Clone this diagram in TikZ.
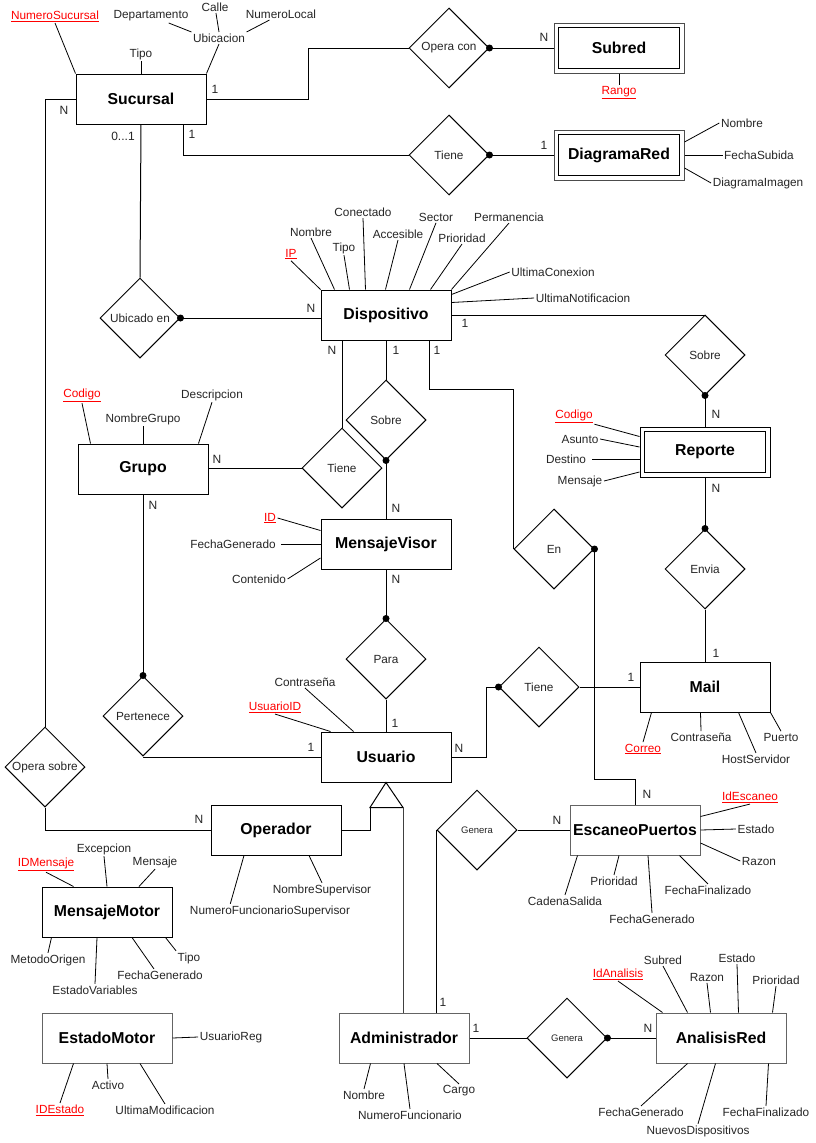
\documentclass[tikz,border=0pt]{standalone}
\usepackage{fontspec}
\setmainfont{Liberation Sans}
\usetikzlibrary{shapes.geometric}
\definecolor{keyred}{RGB}{255,0,0}
\definecolor{bgray}{RGB}{100,100,100}
\begin{document}
\begin{tikzpicture}[x=1pt,y=-1pt,
 ent/.style={draw, line width=1pt, minimum width=130pt, minimum height=50pt, inner sep=0pt, font=\fontsize{15.8}{18}\selectfont\bfseries},
 gent/.style={ent, draw=bgray},
 rel/.style={draw, line width=1pt, shape=diamond, shape aspect=1, minimum width=80pt, minimum height=80pt, inner sep=0pt, font=\fontsize{11.8}{14}\selectfont, text=black!85},
 srel/.style={rel, font=\fontsize{9.5}{11}\selectfont},
 attr/.style={inner sep=1.5pt, font=\fontsize{11.8}{14}\selectfont, text=black!85},
 key/.style={attr, text=keyred},
 card/.style={inner sep=0pt, font=\fontsize{12}{14}\selectfont, text=black!85},
 conn/.style={line width=1pt},
 aline/.style={line width=0.8pt},
 dot/.style={fill=black}
]
\fill[white] (0,0) rectangle (816,1143);
\useasboundingbox (0,0) rectangle (816,1143);

% ---------- entities ----------
\node[ent] (suc) at (141,99) {Sucursal};
\node[ent, draw=black!70] (subred) at (619,48) {Subred};
\draw[line width=1pt] ([shift={(5,5)}]subred.north west) rectangle ([shift={(-5,-5)}]subred.south east);
\node[ent, draw=black!70] (diag) at (619,155) {DiagramaRed};
\draw[line width=1pt] ([shift={(5,5)}]diag.north west) rectangle ([shift={(-5,-5)}]diag.south east);
\node[ent] (disp) at (386,315) {Dispositivo};
\node[ent] (rep) at (705,452) {Reporte};
\draw[line width=1pt] ([shift={(5,5)}]rep.north west) rectangle ([shift={(-5,-5)}]rep.south east);
\node[ent] (grupo) at (143,469) {Grupo};
\node[ent] (mv) at (386,544) {MensajeVisor};
\node[ent] (usu) at (386,757) {Usuario};
\node[ent] (mail) at (705,687) {Mail};
\node[ent] (oper) at (276,830) {Operador};
\node[gent] (esc) at (635,830) {EscaneoPuertos};
\node[ent] (mm) at (107,912) {MensajeMotor};
\node[gent] (em) at (107,1038) {EstadoMotor};
\node[gent] (adm) at (404,1038) {Administrador};
\node[gent] (ar) at (721,1038) {AnalisisRed};

% ---------- relationships ----------
\node[rel] (operacon) at (449,48) {Opera con};
\node[rel] (tieneD) at (449,155) {Tiene};
\node[rel] (ubic) at (140,318) {Ubicado en};
\node[rel] (sobreM) at (386,420) {Sobre};
\node[rel] (tieneG) at (342,468) {Tiene};
\node[rel] (sobreR) at (705,355) {Sobre};
\node[rel] (en) at (554,549) {En};
\node[rel] (envia) at (705,569) {Envia};
\node[rel] (para) at (386,659) {Para};
\node[rel] (pert) at (143,716) {Pertenece};
\node[rel] (tieneM) at (539,687) {Tiene};
\node[rel] (operasobre) at (45,767) {Opera sobre};
\node[srel] (generaE) at (477,830) {Genera};
\node[srel] (generaA) at (567,1038) {Genera};

% ---------- connectors ----------
\draw[conn] (suc.east) -- ([shift={(102,0)}]suc.east) |- (operacon.west);
\draw[conn] (operacon.east) -- (subred.west);
\fill[dot] (operacon.east) circle[radius=3.5pt];
\draw[conn] ([shift={(42,0)}]suc.south) |- (tieneD.west);
\draw[conn] (tieneD.east) -- (tieneD.east -| diag.west);
\fill[dot] (tieneD.east) circle[radius=3.5pt];
\draw[conn] (suc.south) -- (ubic.north);
\draw[conn] (ubic.east) -- (ubic.east -| disp.west);
\fill[dot] (ubic.east) circle[radius=3.5pt];
\draw[conn] (suc.west) -| (operasobre.north);
\draw[conn] (operasobre.south) |- (oper.west);
\draw[conn] (tieneG.north |- disp.south) -- (tieneG.north);
\draw[conn] (disp.south) -- (sobreM.north);
\draw[conn] (sobreM.south) -- (mv.north);
\fill[dot] (sobreM.south) circle[radius=3.5pt];
\draw[conn] (tieneG.west -| grupo.east) -- (tieneG.west);
\draw[conn] (disp.east) -| (sobreR.north);
\draw[conn] (sobreR.south) -- (rep.north);
\fill[dot] (sobreR.south) circle[radius=3.5pt];
\draw[conn] ([shift={(43,0)}]disp.south) -- ([shift={(43,49)}]disp.south) -| (en.west);
\draw[conn] (en.east) -- ([shift={(0,230)}]en.east) -| (esc.north);
\fill[dot] (en.east) circle[radius=3.5pt];
\draw[conn] (rep.south) -- (envia.north);
\fill[dot] (envia.north) circle[radius=3.5pt];
\draw[conn] (envia.south) -- (mail.north);
\draw[conn] (mv.south) -- (para.north);
\fill[dot] (para.north) circle[radius=3.5pt];
\draw[conn] (para.south) -- (usu.north);
\draw[conn] (grupo.south) -- (pert.north);
\fill[dot] (pert.north) circle[radius=3.5pt];
\draw[conn] (pert.south) |- (usu.west);
\draw[conn] (usu.east) -- ([shift={(35,0)}]usu.east) |- (tieneM.west);
\fill[dot] (tieneM.west) circle[radius=3.5pt];
\draw[conn] (tieneM.east) -- (tieneM.east -| mail.west);
% ISA
\coordinate (isaL) at ([shift={(-16,25)}]usu.south);
\coordinate (isaR) at ([shift={(17,25)}]usu.south);
\draw[conn] (usu.south) -- (isaL) -- (isaR) -- cycle;
\draw[conn] (oper.east) -| (isaL);
\draw[conn, draw=black!75] (isaR) -- (isaR |- adm.north);
\draw[conn] (generaE.east) -- (generaE.east -| esc.west);
\draw[conn] (generaE.west) -- (generaE.west |- adm.north);
\draw[conn] (adm.east) -- (generaA.west);
\draw[conn] (generaA.east) -- (ar.west);
\fill[dot] (generaA.east) circle[radius=3.5pt];

% ---------- cardinalities ----------
\node[card] (k1) at (215,89) {1};
\node[card] (k2) at (544,37) {N};
\node[card] (k3) at (192,134) {1};
\node[card] (k4) at (544,145) {1};
\node[card] (k5) at (123,136) {0...1};
\node[card] (k6) at (64,110) {N};
\node[card] (k7) at (311,308) {N};
\node[card] (k8) at (332,350) {N};
\node[card] (k9) at (396,350) {1};
\node[card] (k10) at (437,350) {1};
\node[card] (k11) at (465,323) {1};
\node[card] (k12) at (396,508) {N};
\node[card] (k13) at (217,459) {N};
\node[card] (k14) at (153,505) {N};
\node[card] (k15) at (716,414) {N};
\node[card] (k16) at (716,488) {N};
\node[card] (k17) at (716,653) {1};
\node[card] (k18) at (631,677) {1};
\node[card] (k19) at (396,579) {N};
\node[card] (k20) at (395,723) {1};
\node[card] (k21) at (311,747) {1};
\node[card] (k22) at (459,748) {N};
\node[card] (k23) at (647,794) {N};
\node[card] (k24) at (199,819) {N};
\node[card] (k25) at (557,820) {N};
\node[card] (k26) at (443,1002) {1};
\node[card] (k27) at (476,1028) {1};
\node[card] (k28) at (648,1028) {N};

% ---------- attributes: Sucursal ----------
\node[key] (numsuc) at (55,16) {\underline{NumeroSucursal}};
\draw[aline] (suc.north west) -- (numsuc.south);
\node[attr] (tipoS) at (141,54) {Tipo};
\draw[aline] (suc.north) -- (tipoS.south);
\node[attr] (ubicA) at (219,38) {Ubicacion};
\draw[aline] (suc.north east) -- (ubicA.south);
\node[attr] (depto) at (151,16) {Departamento};
\draw[aline] (ubicA.north west) -- (depto);
\node[attr] (calle) at (215,7) {Calle};
\draw[aline] (ubicA.north) -- (calle);
\node[attr] (numloc) at (281,14) {NumeroLocal};
\draw[aline] (ubicA.north east) -- (numloc);

% Subred
\node[key] (rango) at (619,93) {\underline{Rango}};
\draw[aline] (subred.south) -- (rango.north);

% DiagramaRed
\node[attr] (nombreD) at (742,123) {Nombre};
\draw[aline] ([shift={(0,-13)}]diag.east) -- (nombreD.west);
\node[attr] (fechaSub) at (759,155) {FechaSubida};
\draw[aline] (diag.east) -- (fechaSub.west);
\node[attr] (diagImg) at (758,183) {DiagramaImagen};
\draw[aline] ([shift={(0,13)}]diag.east) -- (diagImg.west);

% Dispositivo
\node[key] (ip) at (291,254) {\underline{IP}};
\draw[aline] (disp.north west) -- (ip.south);
\node[attr] (nombreDisp) at (311,232) {Nombre};
\draw[aline] ([shift={(14,0)}]disp.north west) -- (nombreDisp.south);
\node[attr] (tipoDisp) at (344,248) {Tipo};
\draw[aline] ([shift={(29,0)}]disp.north west) -- (tipoDisp.south);
\node[attr] (conectado) at (363,212) {Conectado};
\draw[aline] ([shift={(45,0)}]disp.north west) -- (conectado.south);
\node[attr] (accesible) at (398,234) {Accesible};
\draw[aline] ([shift={(65,0)}]disp.north west) -- (accesible.south);
\node[attr] (sector) at (436,217) {Sector};
\draw[aline] ([shift={(89,0)}]disp.north west) -- (sector.south);
\node[attr] (prioridadDisp) at (462,238) {Prioridad};
\draw[aline] ([shift={(110,0)}]disp.north west) -- (prioridadDisp.south);
\node[attr] (permanencia) at (509,217) {Permanencia};
\draw[aline] (disp.north east) -- (permanencia.south);
\node[attr] (ultConex) at (553,272) {UltimaConexion};
\draw[aline] ([shift={(0,5)}]disp.north east) -- (ultConex.west);
\node[attr] (ultNotif) at (583,298) {UltimaNotificacion};
\draw[aline] ([shift={(0,13)}]disp.north east) -- (ultNotif.west);

% Reporte
\node[key] (codigoR) at (574,416) {\underline{Codigo}};
\draw[aline] ([shift={(0,10)}]rep.north west) -- (codigoR.south east);
\node[attr] (asunto) at (580,439) {Asunto};
\draw[aline] ([shift={(0,-5)}]rep.west) -- (asunto.east);
\node[attr] (destino) at (566,459) {Destino};
\draw[aline] ([shift={(0,7)}]rep.west) -- ([shift={(4,0)}]destino.east);
\node[attr] (mensajeR) at (580,481) {Mensaje};
\draw[aline] ([shift={(0,20)}]rep.west) -- (mensajeR.east);

% Grupo
\node[key] (codigoG) at (82,395) {\underline{Codigo}};
\draw[aline] ([shift={(13,0)}]grupo.north west) -- (codigoG.south);
\node[attr] (nombreGrupo) at (143,419) {NombreGrupo};
\draw[aline] (grupo.north) -- (nombreGrupo.south);
\node[attr] (descr) at (212,395) {Descripcion};
\draw[aline] ([shift={(-10,0)}]grupo.north east) -- (descr.south);

% MensajeVisor
\node[key] (idMV) at (270,518) {\underline{ID}};
\draw[aline] ([shift={(0,12)}]mv.north west) -- (idMV.east);
\node[attr] (fechaMV) at (233,544) {FechaGenerado};
\draw[aline] (mv.west) -- ([shift={(4,0)}]fechaMV.east);
\node[attr] (contenido) at (259,579) {Contenido};
\draw[aline] ([shift={(0,14)}]mv.west) -- (contenido.east);

% Usuario
\node[key] (usuarioID) at (275,707) {\underline{UsuarioID}};
\draw[aline] ([shift={(10,0)}]usu.north west) -- (usuarioID.south);
\node[attr] (contraU) at (305,682) {Contraseña};
\draw[aline] ([shift={(33,0)}]usu.north west) -- (contraU.south);

% Mail
\node[key] (correo) at (643,749) {\underline{Correo}};
\draw[aline] ([shift={(12,0)}]mail.south west) -- (correo.north);
\node[attr] (contraM) at (701,737) {Contraseña};
\draw[aline] ([shift={(61,0)}]mail.south west) -- (contraM.north);
\node[attr] (hostServ) at (756,759) {HostServidor};
\draw[aline] ([shift={(99,0)}]mail.south west) -- (hostServ.north);
\node[attr] (puerto) at (781,737) {Puerto};
\draw[aline] (mail.south east) -- (puerto.north);

% Operador
\node[attr] (numFS) at (270,911) {NumeroFuncionarioSupervisor};
\draw[aline] ([shift={(-32,0)}]oper.south) -- ([shift={(42,0)}]numFS.north west);
\node[attr] (nombreSup) at (322,890) {NombreSupervisor};
\draw[aline] ([shift={(33,0)}]oper.south) -- (nombreSup.north);

% MensajeMotor
\node[key] (idMensaje) at (46,864) {\underline{IDMensaje}};
\draw[aline] ([shift={(32,0)}]mm.north west) -- (idMensaje.south);
\node[attr] (excepcion) at (104,849) {Excepcion};
\draw[aline] (mm.north) -- (excepcion.south);
\node[attr] (mensajeMM) at (155,862) {Mensaje};
\draw[aline] ([shift={(32,0)}]mm.north) -- (mensajeMM.south);
\node[attr] (metodo) at (48,960) {MetodoOrigen};
\draw[aline] ([shift={(10,0)}]mm.south west) -- (metodo.north);
\node[attr] (estadoVars) at (95,990) {EstadoVariables};
\draw[aline] ([shift={(-10,0)}]mm.south) -- (estadoVars.north);
\node[attr] (fechaMM) at (160,975) {FechaGenerado};
\draw[aline] ([shift={(25,0)}]mm.south) -- ([shift={(-6,0)}]fechaMM.north);
\node[attr] (tipoMM) at (189,958) {Tipo};
\draw[aline] ([shift={(-7,0)}]mm.south east) -- (tipoMM.north west);

% EstadoMotor
\node[attr] (usuarioReg) at (231,1037) {UsuarioReg};
\draw[aline] (em.east) -- (usuarioReg.west);
\node[key] (idEstado) at (60,1110) {\underline{IDEstado}};
\draw[aline] ([shift={(32,0)}]em.south west) -- (idEstado.north);
\node[attr] (activo) at (108,1085) {Activo};
\draw[aline] (em.south) -- (activo.north);
\node[attr] (ultMod) at (165,1110) {UltimaModificacion};
\draw[aline] ([shift={(33,0)}]em.south) -- (ultMod.north);

% Administrador
\node[attr] (nombreA) at (364,1095) {Nombre};
\draw[aline] ([shift={(32,0)}]adm.south west) -- (nombreA.north);
\node[attr] (numFunc) at (410,1115) {NumeroFuncionario};
\draw[aline] (adm.south) -- (numFunc.north);
\node[attr] (cargo) at (459,1091) {Cargo};
\draw[aline] ([shift={(33,0)}]adm.south) -- (cargo.north);

% EscaneoPuertos
\node[key] (idEsc) at (750,797) {\underline{IdEscaneo}};
\draw[aline] ([shift={(0,12)}]esc.north east) -- (idEsc.south);
\node[attr] (estadoE) at (756,829) {Estado};
\draw[aline] (esc.east) -- (estadoE.west);
\node[attr] (razonE) at (759,861) {Razon};
\draw[aline] ([shift={(0,13)}]esc.east) -- (razonE.west);
\node[attr] (fechaFinE) at (708,890) {FechaFinalizado};
\draw[aline] ([shift={(-21,0)}]esc.south east) -- (fechaFinE.north);
\node[attr] (fechaGenE) at (652,919) {FechaGenerado};
\draw[aline] ([shift={(13,0)}]esc.south) -- (fechaGenE.north);
\node[attr] (prioridadE) at (614,881) {Prioridad};
\draw[aline] ([shift={(-16,0)}]esc.south) -- (prioridadE.north);
\node[attr] (cadena) at (565,901) {CadenaSalida};
\draw[aline] ([shift={(8,0)}]esc.south west) -- (cadena.north);

% AnalisisRed
\node[key] (idAn) at (618,974) {\underline{IdAnalisis}};
\draw[aline] ([shift={(7,0)}]ar.north west) -- (idAn.south);
\node[attr] (subredA) at (663,960) {Subred};
\draw[aline] ([shift={(32,0)}]ar.north west) -- (subredA.south);
\node[attr] (razonA) at (707,977) {Razon};
\draw[aline] ([shift={(55,0)}]ar.north west) -- (razonA.south);
\node[attr] (estadoA) at (737,958) {Estado};
\draw[aline] ([shift={(83,0)}]ar.north west) -- (estadoA.south);
\node[attr] (prioridadA) at (776,980) {Prioridad};
\draw[aline] ([shift={(-14,0)}]ar.north east) -- (prioridadA.south);
\node[attr] (fechaGenA) at (641,1112) {FechaGenerado};
\draw[aline] ([shift={(32,0)}]ar.south west) -- (fechaGenA.north);
\node[attr] (nuevos) at (698,1131) {NuevosDispositivos};
\draw[aline] ([shift={(60,0)}]ar.south west) -- (nuevos.north);
\node[attr] (fechaFinA) at (766,1112) {FechaFinalizado};
\draw[aline] ([shift={(-18,0)}]ar.south east) -- (fechaFinA.north);
\end{tikzpicture}
\end{document}
